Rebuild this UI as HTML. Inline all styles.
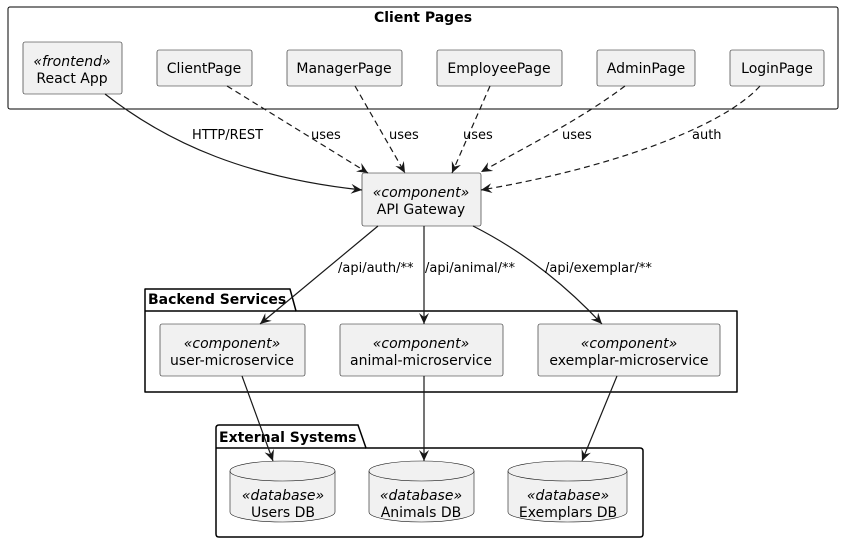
<!DOCTYPE html>
<html><head><meta charset="utf-8"><style>
body{margin:0;background:#fff}
svg{display:block;font-family:"DejaVu Sans","Liberation Sans",sans-serif}
.b{fill:#f1f1f1;stroke:#181818;stroke-width:0.6}
.t{font-size:14px;fill:#000;text-anchor:middle}
.s{font-size:14px;font-style:italic;fill:#000;text-anchor:middle}
.l{font-size:13px;fill:#000}
.e{stroke:#181818;stroke-width:1.2;fill:none}
.d{stroke:#181818;stroke-width:1.2;fill:none;stroke-dasharray:6 4}
.h{font-size:14px;font-weight:bold;fill:#000}
</style></head><body>
<svg width="845" height="544" viewBox="0 0 845 544">
<defs><marker id="a" viewBox="0 0 12 10" refX="11" refY="5" markerWidth="12" markerHeight="10" orient="auto" markerUnits="userSpaceOnUse"><path d="M0,0 L11,5 L0,10 L4,5 Z" fill="#181818"/></marker></defs>
<rect x="8" y="7" width="830" height="102" rx="2" fill="none" stroke="#000" stroke-width="1"/>
<text x="423" y="22" class="h" text-anchor="middle">Client Pages</text>
<rect class="b" x="23" y="42" width="99" height="52" rx="2"/>
<text class="s" x="72" y="66">«frontend»</text><text class="t" x="72" y="83">React App</text>
<rect class="b" x="157" y="50" width="95" height="36" rx="2"/><text class="t" x="204" y="73">ClientPage</text>
<rect class="b" x="287" y="50" width="115" height="36" rx="2"/><text class="t" x="344" y="73">ManagerPage</text>
<rect class="b" x="437" y="50" width="125" height="36" rx="2"/><text class="t" x="499" y="73">EmployeePage</text>
<rect class="b" x="597" y="50" width="98" height="36" rx="2"/><text class="t" x="646" y="73">AdminPage</text>
<rect class="b" x="730" y="50" width="94" height="36" rx="2"/><text class="t" x="777" y="73">LoginPage</text>
<rect class="b" x="362" y="173" width="119" height="53" rx="2"/>
<text class="s" x="421" y="197">«component»</text><text class="t" x="421" y="214">API Gateway</text>
<path class="e" d="M105,94 C170,145 250,178 362,190" marker-end="url(#a)"/>
<text class="l" x="192" y="139">HTTP/REST</text>
<path class="d" d="M227,86 L368,173" marker-end="url(#a)"/><text class="l" x="311" y="139">uses</text>
<path class="d" d="M355,86 L405,173" marker-end="url(#a)"/><text class="l" x="389" y="139">uses</text>
<path class="d" d="M490,86 L452,173" marker-end="url(#a)"/><text class="l" x="463" y="139">uses</text>
<path class="d" d="M625,86 C580,120 520,150 481,172" marker-end="url(#a)"/><text class="l" x="562" y="139">uses</text>
<path class="d" d="M760,86 C720,130 600,170 481,190" marker-end="url(#a)"/><text class="l" x="692" y="139">auth</text>
<path d="M145,311 V289 H290 L296,311 H737 V392 H145 Z" fill="none" stroke="#000" stroke-width="1.5" stroke-linejoin="round"/>
<line x1="145" y1="311" x2="296" y2="311" stroke="#000" stroke-width="1.5"/>
<text class="h" x="148" y="304">Backend Services</text>
<rect class="b" x="160" y="324" width="145" height="52" rx="2"/>
<text class="s" x="232" y="348">«component»</text><text class="t" x="232" y="365">user-microservice</text>
<rect class="b" x="340" y="324" width="163" height="52" rx="2"/>
<text class="s" x="421" y="348">«component»</text><text class="t" x="421" y="365">animal-microservice</text>
<rect class="b" x="538" y="324" width="182" height="52" rx="2"/>
<text class="s" x="629" y="348">«component»</text><text class="t" x="629" y="365">exemplar-microservice</text>
<path class="e" d="M378,226 L260,324" marker-end="url(#a)"/><text class="l" x="338" y="272">/api/auth/**</text>
<path class="e" d="M424,226 L424,324" marker-end="url(#a)"/><text class="l" x="425" y="272">/api/animal/**</text>
<path class="e" d="M473,226 C530,255 570,290 602,324" marker-end="url(#a)"/><text class="l" x="545" y="272">/api/exemplar/**</text>
<path d="M216,448 V428 Q216,425 219,425 H358 L366,448 H640 Q643,448 643,451 V534 Q643,537 640,537 H219 Q216,537 216,534 Z" fill="none" stroke="#000" stroke-width="1.5"/>
<line x1="216" y1="448" x2="366" y2="448" stroke="#000" stroke-width="1.5"/>
<text class="h" x="219" y="442">External Systems</text>
<g>
<path class="b" d="M230,471 A52.5,10 0 0 1 335,471 V512 A52.5,10 0 0 1 230,512 Z"/><path d="M230,471 A52.5,10 0 0 0 335,471" fill="none" stroke="#181818" stroke-width="0.6"/>
<text class="s" x="283" y="500">«database»</text><text class="t" x="283" y="517">Users DB</text>
<path class="b" d="M369,471 A52.5,10 0 0 1 474,471 V512 A52.5,10 0 0 1 369,512 Z"/><path d="M369,471 A52.5,10 0 0 0 474,471" fill="none" stroke="#181818" stroke-width="0.6"/>
<text class="s" x="421" y="500">«database»</text><text class="t" x="421" y="517">Animals DB</text>
<path class="b" d="M508,471 A59.5,10 0 0 1 627,471 V512 A59.5,10 0 0 1 508,512 Z"/><path d="M508,471 A59.5,10 0 0 0 627,471" fill="none" stroke="#181818" stroke-width="0.6"/>
<text class="s" x="568" y="500">«database»</text><text class="t" x="568" y="517">Exemplars DB</text>
</g>
<path class="e" d="M242,376 L273,461" marker-end="url(#a)"/>
<path class="e" d="M424,376 L424,461" marker-end="url(#a)"/>
<path class="e" d="M617,376 L582,461" marker-end="url(#a)"/>
</svg>
</body></html>
